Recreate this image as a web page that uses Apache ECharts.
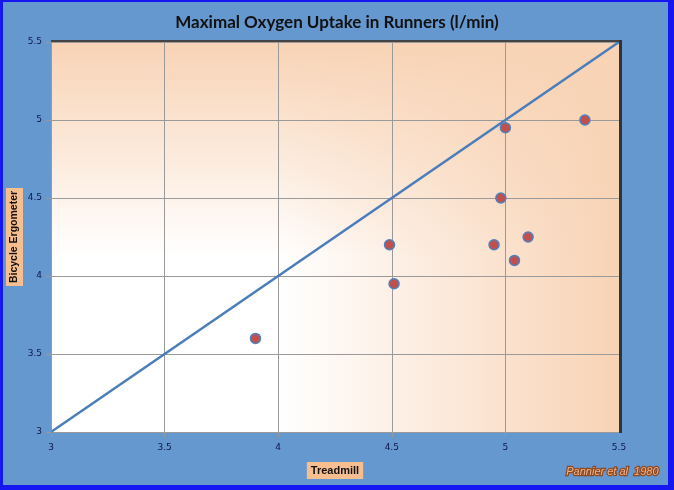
<!DOCTYPE html>
<html>
<head>
<meta charset="utf-8">
<script src="https://cdn.jsdelivr.net/npm/echarts@6/dist/echarts.min.js"></script>
<style>
  html, body { margin: 0; padding: 0; }
  #main { width: 674px; height: 490px; }
</style>
</head>
<body>
<div id="main"></div>
<script>
// Treadmill vs bicycle ergometer, l/min (Pannier et al 1980)
var treadmill = [5.35, 5.0, 4.98, 4.49, 4.95, 5.1, 5.04, 4.51, 3.9];
var ergometer = [5.0, 4.95, 4.5, 4.2, 4.2, 4.25, 4.1, 3.95, 3.6];
var identityLine = [[3, 3], [5.5, 5.5]];
var axisMin = 3, axisMax = 5.5, axisStep = 0.5;

var points = treadmill.map(function (x, i) { return [x, ergometer[i]]; });

var grid = { left: 51, top: 42, width: 568, height: 390 };
var peach = '#F8D3B5';
var frameBlue = '#1616F2';

var myChart = echarts.init(document.getElementById('main'));
myChart.setOption({
    backgroundColor: '#6598CF',
    animation: false,
    title: {
        text: 'Maximal Oxygen Uptake in Runners (l/min)',
        left: 'center',
        top: 9,
        textStyle: { fontFamily: 'Lato', fontWeight: 'bold', fontSize: 17, color: '#111' }
    },
    grid: {
        left: grid.left, top: grid.top, width: grid.width, height: grid.height,
        outerBoundsMode: 'none',
        containLabel: false,
        show: true,
        borderWidth: 0,
        backgroundColor: {
            type: 'linear', x: 0, y: 0, x2: 1, y2: 0,
            colorStops: [
                { offset: 0, color: '#FFFFFF' },
                { offset: 0.4, color: '#FFFFFF' },
                { offset: 1, color: peach }
            ]
        }
    },
    xAxis: {
        type: 'value', min: axisMin, max: axisMax, interval: axisStep,
        name: 'Treadmill', nameLocation: 'middle', nameGap: 30, nameMoveOverlap: false,
        nameTextStyle: {
            fontFamily: 'Liberation Sans', fontWeight: 'bold', fontSize: 11, color: '#111',
            backgroundColor: '#F7BF8F', padding: [3, 4, 3, 4]
        },
        axisLine: { show: false },
        axisTick: { show: true, length: 5, lineStyle: { color: '#999' } },
        axisLabel: { fontFamily: 'DejaVu Sans', fontSize: 9, color: '#10164B', margin: 11 },
        splitLine: { lineStyle: { color: '#9A9A9A', width: 1 } }
    },
    yAxis: {
        type: 'value', min: axisMin, max: axisMax, interval: axisStep,
        name: 'Bicycle Ergometer', nameLocation: 'middle', nameGap: 28, nameRotate: 90,
        nameMoveOverlap: false,
        nameTextStyle: {
            fontFamily: 'Liberation Sans', fontWeight: 'bold', fontSize: 10.5, color: '#111',
            backgroundColor: '#F7BF8F', padding: [3, 3, 3, 3]
        },
        axisLine: { show: false },
        axisTick: { show: true, length: 5, lineStyle: { color: '#999' } },
        axisLabel: { fontFamily: 'DejaVu Sans', fontSize: 9, color: '#10164B', margin: 9 },
        splitLine: { lineStyle: { color: '#9A9A9A', width: 1 } }
    },
    graphic: [
        // vertical peach wash over the plot area
        {
            type: 'rect', z: 0, silent: true,
            shape: { x: grid.left, y: grid.top, width: grid.width, height: grid.height },
            style: {
                fill: {
                    type: 'linear', x: 0, y: 0, x2: 0, y2: 1,
                    colorStops: [
                        { offset: 0, color: 'rgba(248,211,181,1)' },
                        { offset: 0.55, color: 'rgba(248,211,181,0)' },
                        { offset: 1, color: 'rgba(248,211,181,0)' }
                    ]
                }
            }
        },
        // plot frame shadow
        { type: 'rect', z: 5, silent: true, shape: { x: grid.left, y: grid.top - 2, width: grid.width + 3, height: 2 }, style: { fill: '#444' } },
        { type: 'rect', z: 5, silent: true, shape: { x: grid.left + grid.width, y: grid.top - 2, width: 3, height: grid.height + 3 }, style: { fill: '#333' } },
        { type: 'rect', z: 5, silent: true, shape: { x: grid.left, y: grid.top, width: 0.5, height: grid.height }, style: { fill: '#999' } },
        // outer blue frame
        { type: 'rect', z: 10, silent: true, shape: { x: 0, y: 0, width: 3, height: 490 }, style: { fill: frameBlue } },
        { type: 'rect', z: 10, silent: true, shape: { x: 0, y: 0, width: 674, height: 2 }, style: { fill: frameBlue } },
        { type: 'rect', z: 10, silent: true, shape: { x: 668, y: 0, width: 6, height: 490 }, style: { fill: frameBlue } },
        { type: 'rect', z: 10, silent: true, shape: { x: 0, y: 485, width: 674, height: 5 }, style: { fill: frameBlue } },
        {
            type: 'text', z: 10, left: 565, top: 465,
            style: {
                text: 'Pannier et al  1980',
                font: 'italic 11px "Liberation Sans"',
                fill: '#F4B08A', stroke: '#8C4A22', lineWidth: 2.5, strokeFirst: true
            }
        }
    ],
    series: [
        {
            type: 'line',
            data: identityLine,
            showSymbol: false,
            lineStyle: { color: '#4A7EBB', width: 2.5 },
            z: 3
        },
        {
            type: 'scatter',
            data: points,
            symbolSize: 10,
            itemStyle: { color: '#C0504D', borderColor: '#4F81BD', borderWidth: 1.5, opacity: 1 },
            z: 4
        }
    ]
});
</script>
</body>
</html>
